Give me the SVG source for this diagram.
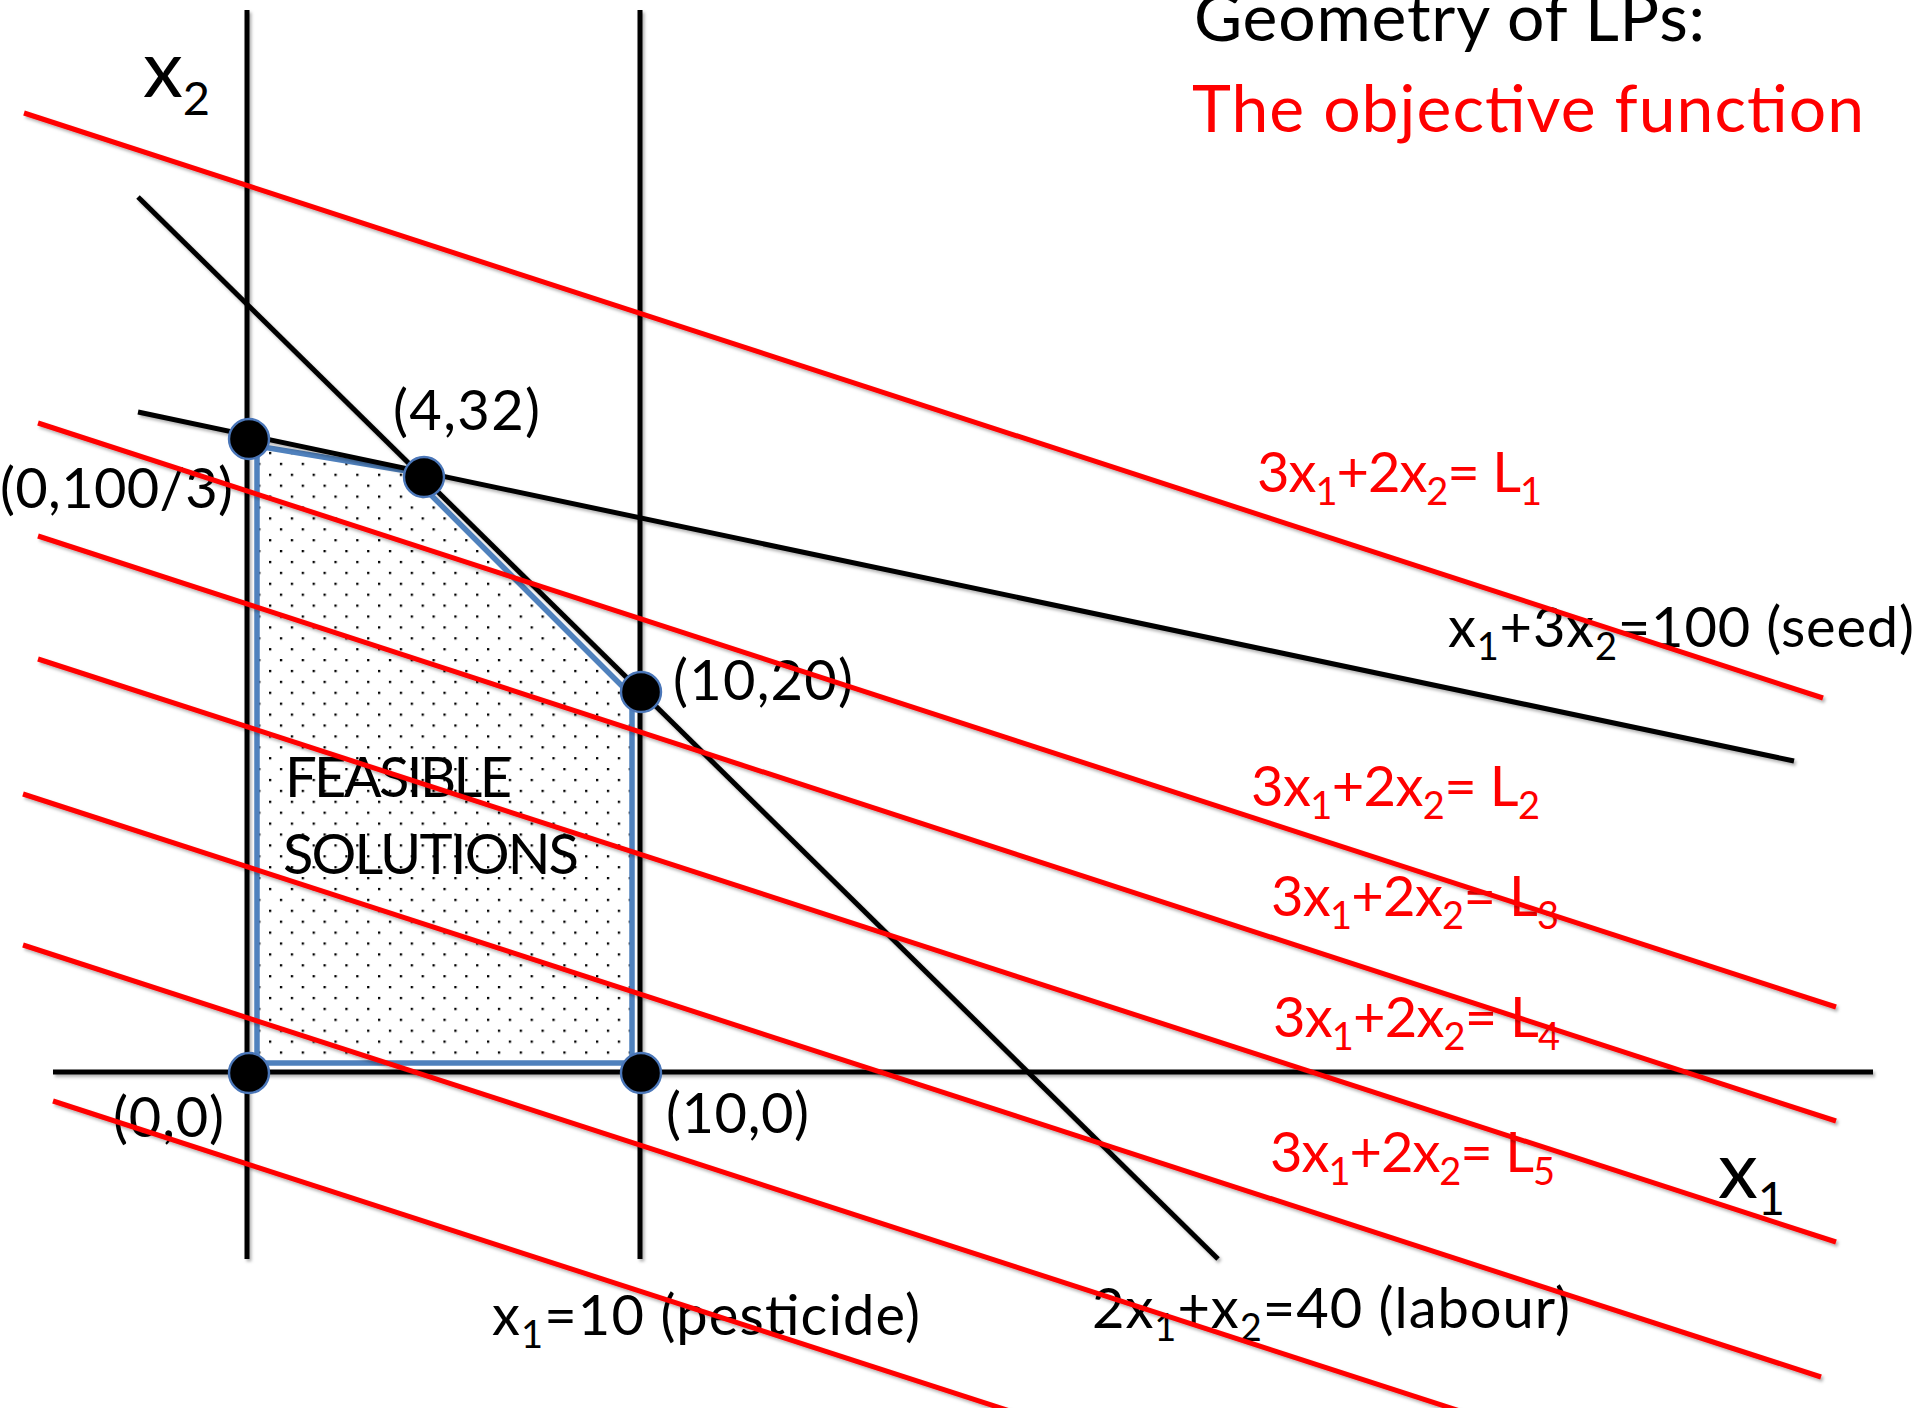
<svg xmlns="http://www.w3.org/2000/svg" width="1920" height="1408" viewBox="0 0 1920 1408">
<defs>
<pattern id="dots" patternUnits="userSpaceOnUse" x="269" y="909.7" width="21.8" height="21.8">
<rect x="0" y="0" width="2.3" height="2.3" fill="#000"/>
<rect x="10.9" y="10.9" width="2.3" height="2.3" fill="#000"/>
</pattern>
<filter id="sh" filterUnits="userSpaceOnUse" x="0" y="0" width="1920" height="1408">
<feDropShadow dx="2" dy="2.5" stdDeviation="1.5" flood-color="#000" flood-opacity="0.3"/>
</filter>
</defs>
<style>
.blk{stroke:#000;stroke-width:5;fill:none}
.red{stroke:#ff0000;stroke-width:5;fill:none}
.v{fill:#000;stroke:#4a76b8;stroke-width:2.4}
.t{font-family:Lato,"Open Sans","Liberation Sans",sans-serif;fill:#000;font-size:56px}
.r{fill:#ff0000}
.title{font-size:66px}
</style>
<rect width="1920" height="1408" fill="#fff"/>

<g id="feasible-region">
<polygon points="257,446 407,471 632,696 632,1063 257,1063" fill="url(#dots)" stroke="#4f81bd" stroke-width="5.5" stroke-linejoin="round"/>
</g>

<g id="connectors">
<g id="constraint-lines" filter="url(#sh)">
<line class="blk" x1="247" y1="10" x2="247" y2="1259"/>
<line class="blk" x1="640" y1="10" x2="640" y2="1259"/>
<line class="blk" x1="53" y1="1072" x2="1873" y2="1072"/>
<line class="blk" x1="138" y1="197" x2="1218" y2="1259"/>
<line class="blk" x1="138" y1="412" x2="1794" y2="761"/>
</g>
</g>

<g id="vertex-0-100-3"><circle class="v" cx="249" cy="439" r="20"/><text class="t" x="0" y="508" textLength="233">(0,100/3)</text></g>
<g id="vertex-4-32"><circle class="v" cx="424" cy="477" r="20"/><text class="t" x="393" y="430" textLength="147">(4,32)</text></g>
<g id="vertex-10-20"><circle class="v" cx="641" cy="692" r="20"/><text class="t" x="673" y="700" textLength="180">(10,20)</text></g>
<g id="vertex-0-0"><circle class="v" cx="249" cy="1073" r="20"/><text class="t" x="113" y="1137" textLength="111">(0,0)</text></g>
<g id="vertex-10-0"><circle class="v" cx="641" cy="1073" r="20"/><text class="t" x="666" y="1133" textLength="143">(10,0)</text></g>

<g id="feasible-label">
<text class="t" x="285" y="797" textLength="227">FEASIBLE</text>
<text class="t" x="283" y="874" textLength="296">SOLUTIONS</text>
</g>

<g id="axis-labels">
<text class="t" x="143" y="97" style="font-size:80px">x<tspan dy="18" style="font-size:47px">2</tspan></text>
<text class="t" x="1718" y="1198" style="font-size:80px">x<tspan dy="17" style="font-size:47px">1</tspan></text>
</g>

<g id="title">
<text class="t title" x="1194" y="41" textLength="511">Geometry of LPs:</text>
<text class="t title r" x="1192" y="132" textLength="672">The objective function</text>
</g>

<g id="constraint-labels">
<text class="t" x="1448" y="647" textLength="466">x<tspan dy="13" style="font-size:38px">1</tspan><tspan dy="-13">+3x</tspan><tspan dy="13" style="font-size:38px">2</tspan><tspan dy="-13">=100 (seed)</tspan></text>
<text class="t" x="1092" y="1328" textLength="478">2x<tspan dy="13" style="font-size:38px">1</tspan><tspan dy="-13">+x</tspan><tspan dy="13" style="font-size:38px">2</tspan><tspan dy="-13">=40 (labour)</tspan></text>
<text class="t" x="492" y="1335" textLength="428">x<tspan dy="13" style="font-size:38px">1</tspan><tspan dy="-13">=10 (pesticide)</tspan></text>
</g>

<g id="objective-labels">
<text class="t r" x="1257" y="492" textLength="285">3x<tspan dy="13" style="font-size:38px">1</tspan><tspan dy="-13">+2x</tspan><tspan dy="13" style="font-size:38px">2</tspan><tspan dy="-13">= L</tspan><tspan dy="13" style="font-size:38px">1</tspan></text>
<text class="t r" x="1251" y="806" textLength="289">3x<tspan dy="13" style="font-size:38px">1</tspan><tspan dy="-13">+2x</tspan><tspan dy="13" style="font-size:38px">2</tspan><tspan dy="-13">= L</tspan><tspan dy="13" style="font-size:38px">2</tspan></text>
<text class="t r" x="1271" y="916" textLength="288">3x<tspan dy="13" style="font-size:38px">1</tspan><tspan dy="-13">+2x</tspan><tspan dy="13" style="font-size:38px">2</tspan><tspan dy="-13">= L</tspan><tspan dy="13" style="font-size:38px">3</tspan></text>
<text class="t r" x="1273" y="1037" textLength="287">3x<tspan dy="13" style="font-size:38px">1</tspan><tspan dy="-13">+2x</tspan><tspan dy="13" style="font-size:38px">2</tspan><tspan dy="-13">= L</tspan><tspan dy="13" style="font-size:38px">4</tspan></text>
<text class="t r" x="1270" y="1172" textLength="285">3x<tspan dy="13" style="font-size:38px">1</tspan><tspan dy="-13">+2x</tspan><tspan dy="13" style="font-size:38px">2</tspan><tspan dy="-13">= L</tspan><tspan dy="13" style="font-size:38px">5</tspan></text>
</g>

<g id="objective-lines" filter="url(#sh)">
<line class="red" x1="24" y1="113" x2="1823" y2="698"/>
<line class="red" x1="38" y1="423" x2="1836" y2="1007"/>
<line class="red" x1="38" y1="536" x2="1836" y2="1121"/>
<line class="red" x1="38" y1="659" x2="1836" y2="1242"/>
<line class="red" x1="23" y1="794" x2="1821" y2="1377"/>
<line class="red" x1="23" y1="945" x2="1500" y2="1424"/>
<line class="red" x1="53" y1="1101" x2="1050" y2="1424"/>
</g>
</svg>
